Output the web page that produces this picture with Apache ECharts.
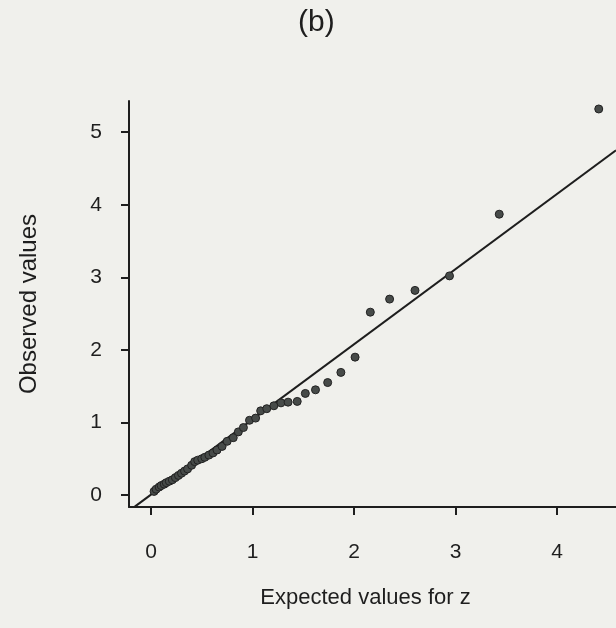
<!DOCTYPE html>
<html>
<head>
<meta charset="utf-8">
<title>(b) Observed vs expected values</title>
<script src="https://cdn.jsdelivr.net/npm/echarts@6/dist/echarts.min.js"></script>
<style>
  html, body { margin: 0; padding: 0; background: #f0f0ec; }
  #chart { width: 616px; height: 628px; }
</style>
</head>
<body>
<div id="chart"></div>
<script>
// Ordered expected values (x) and matching observed values (y)
const expectedZ = [
  0.03, 0.05, 0.08, 0.10, 0.13, 0.15, 0.18, 0.21, 0.24, 0.27,
  0.30, 0.33, 0.36, 0.40, 0.43, 0.46, 0.50, 0.53, 0.57, 0.61,
  0.65, 0.70, 0.75, 0.81, 0.86, 0.91, 0.97, 1.03, 1.08, 1.14,
  1.21, 1.28, 1.35, 1.44, 1.52, 1.62, 1.74, 1.87, 2.01, 2.16,
  2.35, 2.60, 2.94, 3.43, 4.41
];
const observed = [
  0.05, 0.08, 0.11, 0.13, 0.15, 0.17, 0.19, 0.21, 0.24, 0.27,
  0.30, 0.33, 0.36, 0.41, 0.46, 0.48, 0.50, 0.52, 0.55, 0.58,
  0.62, 0.67, 0.74, 0.79, 0.87, 0.93, 1.03, 1.06, 1.16, 1.19,
  1.23, 1.27, 1.28, 1.29, 1.40, 1.45, 1.55, 1.69, 1.90, 2.52,
  2.70, 2.82, 3.02, 3.87, 5.32
];

// Reference line endpoints
const refLineX = [-0.16, 4.58];
const refLineY = [-0.16, 4.75];

// Tick labels
const xTicks = [0, 1, 2, 3, 4];
const yTicks = [0, 1, 2, 3, 4, 5];

const points = expectedZ.map((x, i) => [x, observed[i]]);
const refLine = refLineX.map((x, i) => [x, refLineY[i]]);

const ink = '#1e1e1e';
const font = '"Liberation Sans", Arial, sans-serif';

const chart = echarts.init(document.getElementById('chart'), null, { renderer: 'canvas' });
chart.setOption({
  backgroundColor: '#f0f0ec',
  animation: false,
  title: {
    text: '(b)',
    left: 293,
    top: 3,
    textStyle: { fontFamily: font, fontSize: 30, fontWeight: 'normal', color: ink }
  },
  grid: { left: 129, right: 0, top: 101, bottom: 121 },
  xAxis: {
    type: 'value',
    min: -0.217,
    max: 4.58,
    name: 'Expected values for z',
    nameLocation: 'middle',
    nameGap: 80,
    nameTextStyle: { fontFamily: font, fontSize: 22, color: ink, padding: [0, 14, 0, 0] },
    axisLine: { onZero: false, lineStyle: { color: ink, width: 2 } },
    axisTick: { customValues: xTicks, length: 8, lineStyle: { color: ink, width: 2 } },
    axisLabel: { customValues: xTicks, margin: 35, fontFamily: font, fontSize: 21, color: ink },
    splitLine: { show: false }
  },
  yAxis: {
    type: 'value',
    min: -0.165,
    max: 5.43,
    name: 'Observed values',
    nameLocation: 'middle',
    nameGap: 88,
    nameTextStyle: { fontFamily: font, fontSize: 24, color: ink },
    axisLine: { onZero: false, lineStyle: { color: ink, width: 2 } },
    axisTick: { customValues: yTicks, length: 8, lineStyle: { color: ink, width: 2 } },
    axisLabel: { customValues: yTicks, margin: 27, fontFamily: font, fontSize: 21, color: ink },
    splitLine: { show: false }
  },
  series: [
    {
      type: 'line',
      data: refLine,
      symbol: 'none',
      silent: true,
      lineStyle: { color: ink, width: 2 },
      z: 2
    },
    {
      type: 'scatter',
      data: points,
      symbol: 'circle',
      symbolSize: 8,
      itemStyle: { color: '#474b49', borderColor: '#222', borderWidth: 1, opacity: 1 },
      z: 3
    }
  ]
});
</script>
</body>
</html>
